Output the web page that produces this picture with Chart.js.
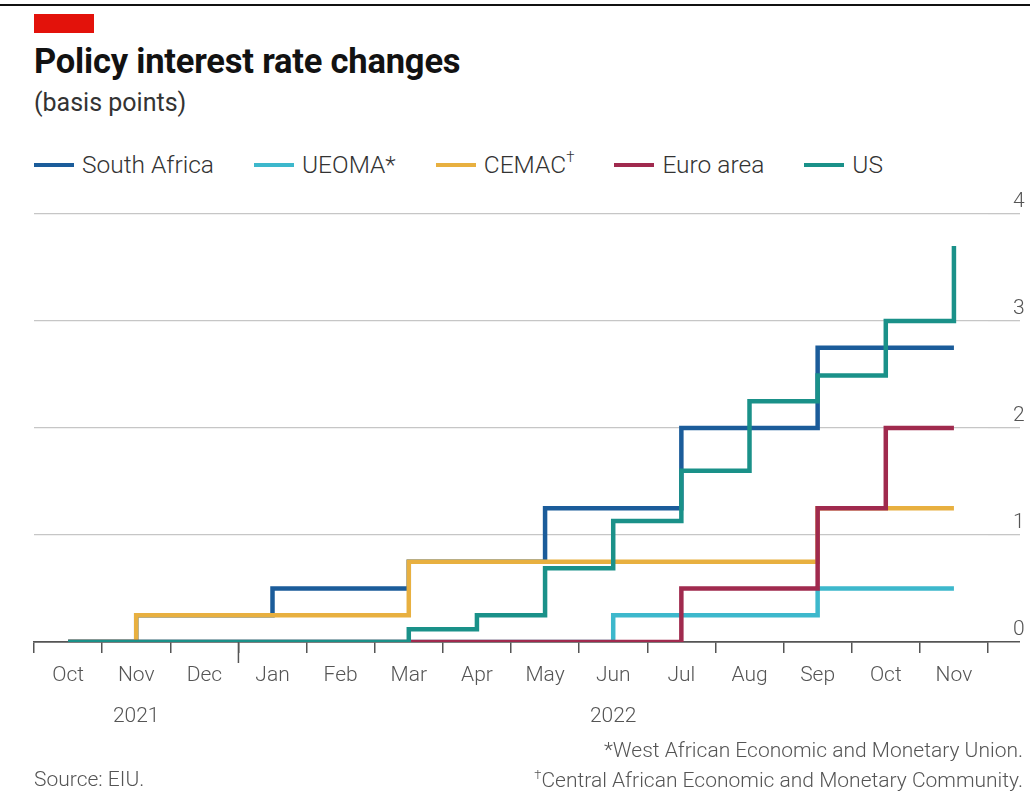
<!DOCTYPE html>
<html>
<head>
<meta charset="utf-8">
<script src="https://cdn.jsdelivr.net/npm/chart.js@4.4.1/dist/chart.umd.min.js"></script>
<style>
  html, body { margin: 0; padding: 0; background: #ffffff; }
  body { width: 1030px; height: 803px; position: relative; overflow: hidden; font-family: Roboto, "Noto Sans", sans-serif; color: #222; }
  #rule { position: absolute; left: 0; top: 4px; width: 1030px; height: 2px; background: #111; }
  #tag { position: absolute; left: 34px; top: 14px; width: 60px; height: 19px; background: #e3120b; }
  #title { position: absolute; left: 34px; top: 41px; font-size: 34.5px; font-weight: 700; color: #121212; white-space: nowrap; letter-spacing: -0.2px; }
  #subtitle { position: absolute; left: 34px; top: 88px; font-size: 25px; font-weight: 400; color: #333; white-space: nowrap; }
  #legend { position: absolute; left: 34px; top: 150px; display: flex; align-items: center; white-space: nowrap; }
  .item { display: flex; align-items: center; margin-right: 40px; font-size: 24.5px; font-weight: 300; color: #333; }
  .swatch { width: 40px; height: 4px; margin-right: 8px; }
  .item sup { font-size: 15px; position: relative; top: -2px; }
  .note { position: absolute; font-size: 21px; font-weight: 300; color: #555; white-space: nowrap; }
  #note1 { right: 7px; top: 738px; }
  #note2 { right: 7px; top: 767px; }
  #source { left: 34px; top: 767px; }
  canvas { position: absolute; left: 0; top: 0; }
</style>
</head>
<body>
<div id="rule"></div>
<div id="tag"></div>
<div id="title">Policy interest rate changes</div>
<div id="subtitle">(basis points)</div>
<div id="legend"></div>
<canvas id="chart" width="1030" height="803"></canvas>
<div class="note" id="note1">*West African Economic and Monetary Union.</div>
<div class="note" id="note2"><sup style="font-size:13px">†</sup>Central African Economic and Monetary Community.</div>
<div class="note" id="source">Source: EIU.</div>
<script>
// Months from October 2021 to November 2022
const months = ['Oct', 'Nov', 'Dec', 'Jan', 'Feb', 'Mar', 'Apr', 'May', 'Jun', 'Jul', 'Aug', 'Sep', 'Oct', 'Nov'];
const yearLabels = ['', '2021', '', '', '', '', '', '', '2022', '', '', '', '', ''];
const yTicks = [0, 1, 2, 3, 4];

// Cumulative change in policy rate since October 2021, percentage points
const southAfrica = [0, 0.25, 0.25, 0.5, 0.5, 0.75, 0.75, 1.25, 1.25, 2.0, 2.0, 2.75, 2.75, 2.75];
const ueoma       = [0, 0, 0, 0, 0, 0, 0, 0, 0.25, 0.25, 0.25, 0.5, 0.5, 0.5];
const cemac       = [0, 0.25, 0.25, 0.25, 0.25, 0.75, 0.75, 0.75, 0.75, 0.75, 0.75, 1.25, 1.25, 1.25];
const euroArea    = [0, 0, 0, 0, 0, 0, 0, 0, 0, 0.5, 0.5, 1.25, 2.0, 2.0];
const us          = [0, 0, 0, 0, 0, 0.12, 0.25, 0.69, 1.13, 1.6, 2.25, 2.49, 3.0, 3.7];

const seriesNames  = ['South Africa', 'UEOMA*', 'CEMAC†', 'Euro area', 'US'];
const seriesData   = [southAfrica, ueoma, cemac, euroArea, us];
const seriesColors = ['#1b5c9a', '#3db8cc', '#e8b040', '#a02a4e', '#1a9189'];
// lower value is painted on top
const seriesLayer  = [3, 4, 2, 1, 0];

// Legend
const legend = document.getElementById('legend');
seriesNames.forEach((name, i) => {
  const item = document.createElement('div');
  item.className = 'item';
  const sw = document.createElement('span');
  sw.className = 'swatch';
  sw.style.background = seriesColors[i];
  const txt = document.createElement('span');
  if (name.slice(-1) === '†') {
    txt.innerHTML = name.slice(0, -1) + '<sup>†</sup>';
  } else {
    txt.textContent = name;
  }
  item.appendChild(sw);
  item.appendChild(txt);
  legend.appendChild(item);
});

// Longer tick mark at the turn of the year
const yearBoundaryTick = {
  id: 'yearBoundaryTick',
  afterDraw(chart) {
    const xs = chart.scales.x;
    const i = months.indexOf('Jan');
    const px = (xs.getPixelForTick(i - 1) + xs.getPixelForTick(i)) / 2;
    const c = chart.ctx;
    c.save();
    c.strokeStyle = '#555';
    c.lineWidth = 1.5;
    c.beginPath();
    c.moveTo(px, xs.top);
    c.lineTo(px, xs.top + 21);
    c.stroke();
    c.restore();
  }
};

const tickFont = { family: 'Roboto', size: 21, weight: 300 };

new Chart(document.getElementById('chart'), {
  type: 'line',
  data: {
    labels: months.map((m, i) => [m, yearLabels[i]]),
    datasets: seriesNames.map((name, i) => ({
      label: name,
      data: seriesData[i],
      borderColor: seriesColors[i],
      backgroundColor: seriesColors[i],
      order: seriesLayer[i]
    }))
  },
  options: {
    responsive: false,
    animation: false,
    layout: { padding: { left: 34, top: 214, right: 0, bottom: 61 } },
    plugins: { legend: { display: false }, tooltip: { enabled: false } },
    elements: {
      point: { radius: 0 },
      line: { borderWidth: 4.5, stepped: 'before', tension: 0, borderCapStyle: 'butt', borderJoinStyle: 'miter', fill: false }
    },
    scales: {
      x: {
        type: 'category',
        offset: true,
        grid: { offset: true, drawOnChartArea: false, drawTicks: true, tickLength: 11, color: '#555', lineWidth: 1.5 },
        border: { display: true, color: '#555', width: 1.5 },
        ticks: { color: '#555', font: { ...tickFont, lineHeight: 1.95 }, padding: 2, maxRotation: 0, autoSkip: false },
        afterFit(s) { s.height = 100; }
      },
      y: {
        position: 'right',
        min: yTicks[0],
        max: yTicks[yTicks.length - 1],
        afterBuildTicks(s) { s.ticks = yTicks.map(v => ({ value: v })); },
        ticks: { color: '#555', font: tickFont, padding: -7, labelOffset: -12 },
        grid: {
          drawTicks: true,
          tickLength: 32,
          color: c => (c.tick && c.tick.value === 0 ? '#555' : '#c6c6c6'),
          lineWidth: c => (c.tick && c.tick.value === 0 ? 1.5 : 1.3)
        },
        border: { display: false },
        afterFit(s) { s.width = 42; }
      }
    }
  },
  plugins: [yearBoundaryTick]
});
</script>
</body>
</html>
